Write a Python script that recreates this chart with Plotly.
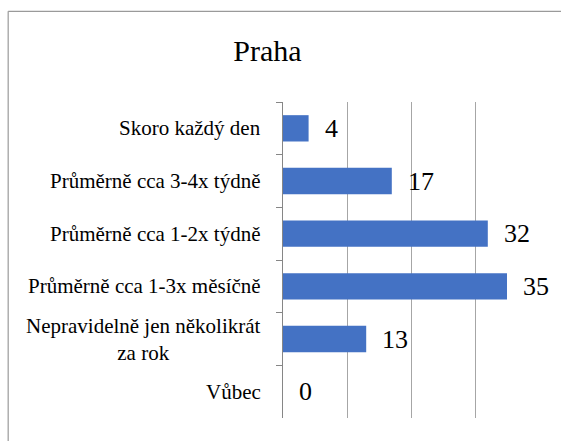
import plotly.graph_objects as go

# Frequency categories (top to bottom) and counts for Praha
categories = [
    "Skoro každý den",
    "Průměrně cca 3-4x týdně",
    "Průměrně cca 1-2x týdně",
    "Průměrně cca 1-3x měsíčně",
    "Nepravidelně jen několikrát<br>za rok",
    "Vůbec",
]
values = [4, 17, 32, 35, 13, 0]
title_text = "Praha"

W, H = 561, 441
ML, MR, MT, MB = 283, 22.3, 101.7, 23.3
plot_w = W - ML - MR
plot_h = H - MT - MB

serif = "'Liberation Serif', 'DejaVu Serif', serif"
bar_color = "#4472C4"
grid_color = "#A6A6A6"
axis_color = "#868686"

fig = go.Figure(
    go.Bar(
        x=values,
        y=categories,
        orientation="h",
        marker=dict(color=bar_color, line=dict(width=0)),
        hoverinfo="skip",
    )
)

# category labels, centred line by line, to the left of the axis
for cat in categories:
    fig.add_annotation(
        x=0, xref="paper", y=cat, yref="y",
        text=cat, showarrow=False,
        xanchor="right", xshift=-20, align="center",
        font=dict(family=serif, size=21, color="#000000"),
    )

# value labels next to each bar end
for cat, v in zip(categories, values):
    fig.add_annotation(
        x=v, xref="x", y=cat, yref="y",
        text=str(v), showarrow=False,
        xanchor="left", xshift=14,
        font=dict(family=serif, size=26, color="#000000"),
    )

# chart frame (left and top edges)
fx0 = (8.5 - ML) / plot_w
fy0 = (H - MB - 11) / plot_h
fig.add_shape(type="line", xref="paper", yref="paper",
              x0=fx0, x1=fx0, y0=fy0, y1=-1,
              line=dict(color="#9A9A9A", width=1.2))
fig.add_shape(type="line", xref="paper", yref="paper",
              x0=fx0, x1=2, y0=fy0, y1=fy0,
              line=dict(color="#9A9A9A", width=1.2))

fig.update_layout(
    width=W, height=H,
    margin=dict(l=ML, r=MR, t=MT, b=MB, pad=0),
    paper_bgcolor="white", plot_bgcolor="white",
    showlegend=False,
    bargap=0.5,
    font=dict(family=serif),
    title=dict(
        text=title_text, x=267.5 / W, xref="container", xanchor="center",
        y=1 - 50 / H, yref="container", yanchor="middle",
        font=dict(family=serif, size=30, color="#000000"),
    ),
    xaxis=dict(
        range=[0, 40], dtick=10, tick0=0,
        showgrid=True, gridcolor=grid_color, gridwidth=1,
        showticklabels=False, zeroline=False, showline=False, ticks="",
    ),
    yaxis=dict(
        categoryorder="array", categoryarray=categories,
        autorange="reversed",
        showticklabels=False, showgrid=False, zeroline=False,
        showline=True, linecolor=axis_color, linewidth=1,
        ticks="outside", tickson="boundaries", ticklen=6,
        tickcolor=axis_color, tickwidth=1,
    ),
)

fig.write_html("out.html")
